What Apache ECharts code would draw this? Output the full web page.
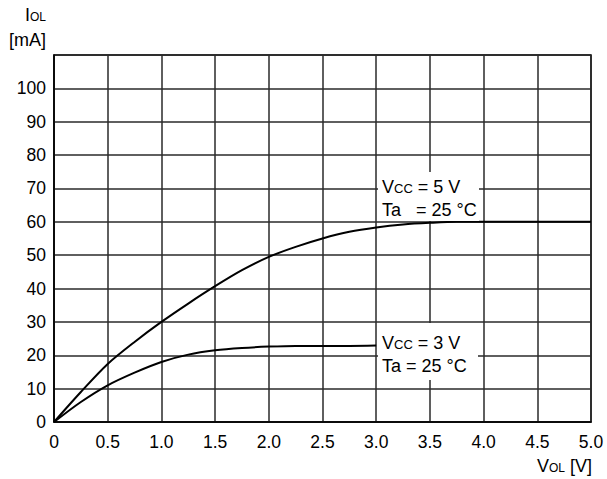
<!DOCTYPE html>
<html>
<head>
<meta charset="utf-8">
<script src="https://cdn.jsdelivr.net/npm/echarts@6/dist/echarts.min.js"></script>
<style>
  html, body { margin: 0; padding: 0; background: #fff; }
  #chart { width: 607px; height: 479px; }
</style>
</head>
<body>
<div id="chart"></div>
<script>
// V_OL sample points [V]
const vol5 = [0, 0.25, 0.5, 0.75, 1.0, 1.25, 1.5, 1.75, 2.0, 2.25, 2.5, 2.75, 3.0, 3.25, 3.5, 3.75, 4.0, 4.5, 5.0];
// I_OL [mA] at Vcc = 5 V
const iol5 = [0, 9, 17.4, 24, 30, 35.5, 40.7, 45.5, 49.5, 52.5, 55, 57, 58.3, 59.2, 59.7, 60, 60, 60, 60];
const vol3 = [0, 0.25, 0.5, 0.75, 1.0, 1.25, 1.5, 1.75, 2.0, 2.25, 2.5, 2.75, 3.0];
// I_OL [mA] at Vcc = 3 V
const iol3 = [0, 6, 11, 14.8, 18, 20.2, 21.5, 22.2, 22.6, 22.8, 22.8, 22.8, 22.9];
const yTicks = [0, 10, 20, 30, 40, 50, 60, 70, 80, 90, 100];
const xTicks = ['0', '0.5', '1.0', '1.5', '2.0', '2.5', '3.0', '3.5', '4.0', '4.5', '5.0'];

const FONT = "'Liberation Sans', Arial, sans-serif";
const chart = echarts.init(document.getElementById('chart'), null, { renderer: 'svg' });

const gridLine = { lineStyle: { color: '#2a2a2a', width: 1.5 } };
const rich = (big, small) => ({
  n: { fontSize: big, fontFamily: FONT, fill: '#000', verticalAlign: 'bottom' },
  s: { fontSize: small, fontFamily: FONT, fill: '#000', verticalAlign: 'bottom', padding: [0, 0, 1, 0] }
});
const lbl = (text, x, y) => ({
  type: 'text', x, y, z: 11,
  style: { text, fill: '#000', verticalAlign: 'middle', rich: rich(18, 13) }
});

chart.setOption({
  animation: false,
  grid: { left: 54, right: 16, top: 55, bottom: 57, show: true, borderColor: '#000', borderWidth: 1.5 },
  xAxis: {
    type: 'value', min: 0, max: 5, interval: 0.5,
    axisLine: { lineStyle: { color: '#000', width: 1.5 } },
    axisTick: { show: false },
    splitLine: gridLine,
    axisLabel: {
      color: '#000', fontSize: 17.5, fontFamily: FONT, margin: 11,
      formatter: v => xTicks[Math.round(v / 0.5)]
    }
  },
  yAxis: {
    type: 'value', min: 0, max: 110, interval: 10,
    axisLine: { lineStyle: { color: '#000', width: 1.5 } },
    axisTick: { show: false },
    splitLine: gridLine,
    axisLabel: {
      color: '#000', fontSize: 17.5, fontFamily: FONT, margin: 8,
      formatter: v => yTicks.includes(v) ? String(v) : ''
    }
  },
  series: [
    {
      type: 'line', smooth: 0.3, symbol: 'none',
      data: vol5.map((x, i) => [x, iol5[i]]),
      lineStyle: { color: '#000', width: 2 }, z: 3
    },
    {
      type: 'line', smooth: 0.3, symbol: 'none',
      data: vol3.map((x, i) => [x, iol3[i]]),
      lineStyle: { color: '#000', width: 2 }, z: 3
    }
  ],
  graphic: [
    // axis titles
    { type: 'text', x: 46, y: 15, style: { text: '{n|I}{s|OL}', align: 'right', verticalAlign: 'middle', rich: rich(18, 12) } },
    { type: 'text', x: 46, y: 40, style: { text: '[mA]', align: 'right', verticalAlign: 'middle', fill: '#000', font: '18px ' + FONT } },
    { type: 'text', x: 592, y: 466, style: { text: '{n|V}{s|OL}{n| [V]}', align: 'right', verticalAlign: 'middle', rich: rich(18, 12) } },
    // condition boxes
    { type: 'rect', shape: { x: 378, y: 172, width: 101, height: 49 }, style: { fill: '#fff' }, z: 10 },
    lbl('{n|V}{s|CC}{n| = 5 V}', 382, 187),
    lbl('{n|Ta   = 25 °C}', 382, 210),
    { type: 'rect', shape: { x: 378, y: 323, width: 100, height: 57 }, style: { fill: '#fff' }, z: 10 },
    lbl('{n|V}{s|CC}{n| = 3 V}', 382, 343),
    lbl('{n|Ta = 25 °C}', 382, 366)
  ]
});
</script>
</body>
</html>
